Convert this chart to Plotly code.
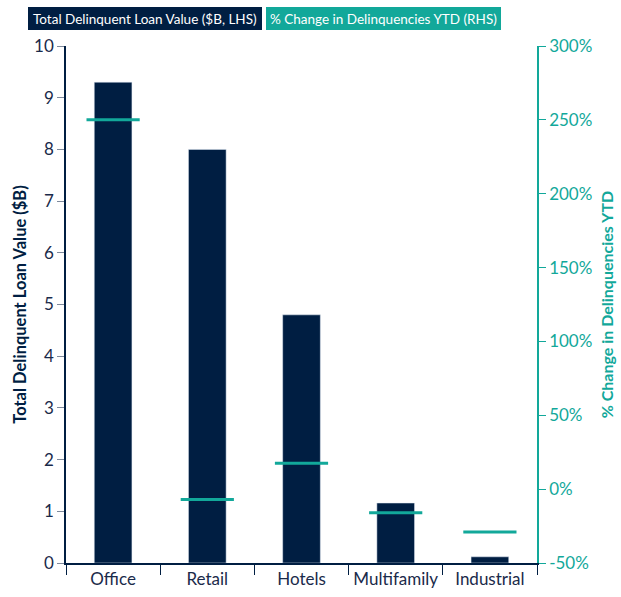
import plotly.graph_objects as go

categories = ["Office", "Retail", "Hotels", "Multifamily", "Industrial"]
loan_value_b = [9.3, 8.0, 4.8, 1.16, 0.12]
pct_change_ytd = [250, -7, 17.5, -16, -29]
left_ticks = list(range(0, 11))
right_ticks = [-50, 0, 50, 100, 150, 200, 250, 300]
right_labels = [f"{v}%" for v in right_ticks]

NAVY = "#001e42"
TEAL = "#12a89a"
FONT = "Lato"

W, H = 621, 597
L, R, T, B = 66, 84, 46, 34
pw, ph = W - L - R, H - T - B

def px(x):
    return (x - L) / pw

def py(y):
    return (H - B - y) / ph

fig = go.Figure()
fig.add_trace(go.Bar(x=categories, y=loan_value_b, marker_color=NAVY, width=0.4,
                     name="Total Delinquent Loan Value ($B, LHS)", yaxis="y"))
fig.add_trace(go.Scatter(x=categories, y=pct_change_ytd, mode="markers", yaxis="y2",
                         marker=dict(symbol="line-ew", size=38,
                                     line=dict(color=TEAL, width=3)),
                         name="% Change in Delinquencies YTD (RHS)"))

fig.update_layout(
    width=W, height=H,
    margin=dict(l=L, r=R, t=T, b=B, pad=0),
    plot_bgcolor="white", paper_bgcolor="white",
    showlegend=False,
    font=dict(family=FONT, color=NAVY, size=16),
    xaxis=dict(type="category", tickson="boundaries", ticks="outside", ticklen=10,
               tickcolor=NAVY, showline=True, linecolor=NAVY, linewidth=1.5,
               showgrid=False, tickfont=dict(size=17, color="#1a2a4a"), tickangle=0,
               automargin=False, range=[-0.5, 4.5]),
    yaxis=dict(range=[0, 10], tickvals=left_ticks, ticks="outside", ticklen=7,
               tickcolor="#7f8a9c", showline=True, linecolor=NAVY, linewidth=1.5,
               showgrid=False, zeroline=False, tickfont=dict(size=17, color="#1a2a4a"),
               automargin=False,
               title=dict(text="<b>Total Delinquent Loan Value ($B)</b>",
                          font=dict(size=16.5, color=NAVY), standoff=3)),
    yaxis2=dict(range=[-50, 300], tickvals=right_ticks, ticktext=right_labels,
                overlaying="y", side="right", ticks="outside", ticklen=7,
                tickcolor=TEAL, showline=True, linecolor=TEAL, linewidth=1.5,
                showgrid=False, zeroline=False, tickfont=dict(size=17, color=TEAL),
                automargin=False,
                title=dict(text="<b>% Change in Delinquencies YTD</b>",
                           font=dict(size=16, color=TEAL), standoff=10)),
)

boxes = [
    (28, 262, NAVY, "Total Delinquent Loan Value ($B, LHS)"),
    (266, 501, TEAL, "% Change in Delinquencies YTD (RHS)"),
]
for x0, x1, col, txt in boxes:
    fig.add_shape(type="rect", xref="paper", yref="paper",
                  x0=px(x0), x1=px(x1), y0=py(30), y1=py(7),
                  fillcolor=col, line=dict(width=0), layer="above")
    fig.add_annotation(xref="paper", yref="paper", x=px((x0 + x1) / 2), y=py(18.5),
                       text=txt, showarrow=False, xanchor="center", yanchor="middle",
                       font=dict(size=13.5, color="white", family=FONT))

fig.write_html("out.html")
